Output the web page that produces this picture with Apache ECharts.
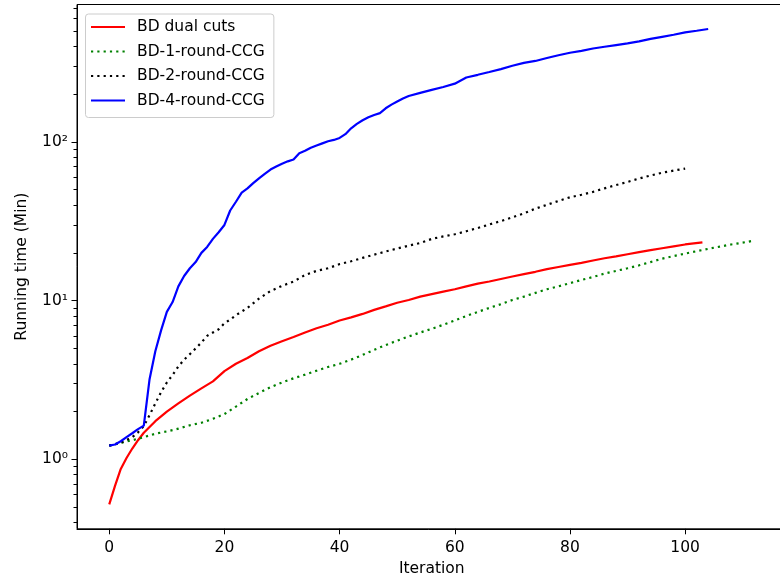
<!DOCTYPE html>
<html>
<head>
<meta charset="utf-8">
<script src="https://cdn.jsdelivr.net/npm/echarts@6/dist/echarts.min.js"></script>
<style>
html,body{margin:0;padding:0;background:#fff;}
#chart{width:780px;height:580px;}
</style>
</head>
<body>
<div id="chart"></div>
<script>
// ---- data ----
const seriesNames = ['BD dual cuts', 'BD-1-round-CCG', 'BD-2-round-CCG', 'BD-4-round-CCG'];

const redIter = [0,1,2,3,4,5,6,8,10,12,14,16,18,20,22,24,26,28,30,32,34,36,38,40,42,44,46,48,50,52,54,56,58,60,62,64,66,68,70,72,74,76,78,80,82,84,86,88,90,92,94,96,98,100,103];
const redTime = [0.52,0.68,0.87,1.02,1.17,1.32,1.47,1.74,2.0,2.25,2.52,2.8,3.1,3.6,4.0,4.35,4.8,5.2,5.55,5.9,6.3,6.7,7.05,7.5,7.85,8.25,8.75,9.2,9.7,10.1,10.6,11.0,11.4,11.8,12.3,12.8,13.2,13.7,14.2,14.7,15.2,15.8,16.3,16.8,17.3,17.9,18.5,19.0,19.6,20.2,20.8,21.4,22.0,22.6,23.3];

const greenIter = [0,2,4,6,8,10,12,14,16,18,20,22,24,26,28,30,32,34,36,38,40,42,44,46,48,50,52,54,56,58,60,62,64,66,68,70,72,74,76,78,80,82,84,86,88,90,92,94,96,98,100,102,104,106,108,110,112];
const greenTime = [1.22,1.27,1.32,1.38,1.45,1.5,1.56,1.64,1.70,1.80,1.93,2.15,2.4,2.62,2.85,3.05,3.24,3.42,3.62,3.82,4.0,4.25,4.55,4.9,5.25,5.6,5.95,6.3,6.65,7.05,7.5,8.0,8.5,9.0,9.5,10.1,10.6,11.2,11.8,12.3,12.9,13.5,14.1,14.8,15.4,16.0,16.7,17.5,18.4,19.1,19.8,20.5,21.2,21.9,22.6,23.2,23.9];

const blackIter = [0,2,4,5,6,7,8,9,10,11,12,13,14,15,16,17,18,19,20,21,22,24,26,28,30,32,34,36,38,40,42,44,46,48,50,52,54,56,58,60,62,64,66,68,70,72,74,76,78,80,82,84,86,88,90,92,94,96,98,100];
const blackTime = [1.22,1.27,1.38,1.48,1.62,1.9,2.25,2.65,3.05,3.4,3.85,4.25,4.6,5.0,5.45,6.0,6.3,6.6,7.2,7.6,8.1,9.0,10.3,11.5,12.4,13.2,14.5,15.4,16.0,17.0,17.7,18.6,19.5,20.4,21.3,22.2,23.1,24.5,25.4,26.2,27.4,28.7,30.2,31.7,33.5,35.5,38.0,40.2,42.5,44.8,46.5,48.5,51.0,53.5,56.0,58.8,61.5,64.0,66.0,68.0];

const blueIter = [0,1,2,3,4,5,6,7,8,9,10,11,12,13,14,15,16,17,18,19,20,21,22,23,24,25,26,27,28,29,30,31,32,33,34,35,36,37,38,39,40,41,42,43,44,45,46,47,48,49,50,51,52,54,56,58,60,62,64,66,68,70,72,74,76,78,80,82,84,86,88,90,92,94,96,98,100,102,104];
const blueTime = [1.22,1.24,1.30,1.38,1.46,1.55,1.63,3.2,4.8,6.5,8.5,9.8,12.3,14.3,16.0,17.5,20.0,21.8,24.5,27.0,30.0,37.0,42.0,48.0,51.0,55.0,59.0,63.0,67.0,70.0,73.0,75.5,77.5,85.0,88.0,92.0,95.0,98.0,101,103,106,112,122,130,137,143,148,152,163,172,180,188,195,204,213,222,233,255,265,276,288,302,315,324,338,352,365,375,388,398,408,418,430,446,460,474,490,502,515];

const xTicks = [0, 20, 40, 60, 80, 100];
const yTicks = [1, 10, 100];
const yTickLabels = ['10\u2070', '10\u00b9', '10\u00b2'];
const yMinorTicks = [0.4,0.5,0.6,0.7,0.8,0.9,2,3,4,5,6,7,8,9,20,30,40,50,60,70,80,90,200,300,400,500,600,700];

// ---- chart ----
const FONT = 'DejaVu Sans';
const FS = 15.5;
const pairs = (xs, ys) => xs.map((x, i) => [x, ys[i]]);
const chart = echarts.init(document.getElementById('chart'), null, {renderer: 'canvas'});

const mkLine = (name, xs, ys, color, dotted) => ({
  name: name,
  type: 'line',
  data: pairs(xs, ys),
  yAxisIndex: 0,
  symbol: 'none',
  showSymbol: false,
  smooth: false,
  lineStyle: {color: color, width: 2.2, type: dotted ? [2.2, 4.1] : 'solid', cap: 'butt'},
  itemStyle: {color: color},
  emphasis: {disabled: true},
  z: 2
});

const yMin = 0.365, yMax = 735;

chart.setOption({
  animation: false,
  backgroundColor: '#ffffff',
  textStyle: {fontFamily: FONT},
  grid: {
    left: 77, width: 709.5, top: 4.5, height: 524.3,
    outerBoundsMode: 'none',
    show: true, borderColor: '#000', borderWidth: 1, backgroundColor: 'transparent',
    containLabel: false
  },
  legend: {
    orient: 'vertical',
    left: 85.5, top: 14,
    padding: [5, 9, 9, 4.5],
    itemWidth: 34, itemHeight: 14, itemGap: 8.5,
    backgroundColor: 'rgba(255,255,255,0.8)',
    borderColor: '#cccccc', borderWidth: 1, borderRadius: 3,
    itemStyle: {opacity: 0, borderWidth: 0},
    textStyle: {fontFamily: FONT, fontSize: FS, color: '#000', padding: [0, 0, 0, 7]},
    data: seriesNames
  },
  xAxis: {
    type: 'value',
    position: 'bottom',
    min: -5.6, max: 117.6,
    name: 'Iteration',
    nameLocation: 'middle',
    nameGap: 31,
    nameTextStyle: {fontFamily: FONT, fontSize: FS, color: '#000'},
    axisLine: {show: true, onZero: false, lineStyle: {color: '#000', width: 1}},
    axisTick: {show: true, inside: false, length: 5.5, lineStyle: {color: '#000', width: 1}, customValues: xTicks},
    axisLabel: {show: true, margin: 11, fontFamily: FONT, fontSize: FS, color: '#000', customValues: xTicks},
    splitLine: {show: false}
  },
  yAxis: [
    {
      type: 'log', logBase: 10,
      position: 'left',
      min: yMin, max: yMax,
      name: 'Running time (Min)',
      nameLocation: 'middle',
      nameGap: 47,
      nameTextStyle: {fontFamily: FONT, fontSize: FS, color: '#000'},
      axisLine: {show: true, onZero: false, lineStyle: {color: '#000', width: 1}},
      axisTick: {show: true, inside: false, length: 5.5, lineStyle: {color: '#000', width: 1}, customValues: yTicks},
      axisLabel: {
        show: true, margin: 9, fontFamily: FONT, fontSize: FS, color: '#000',
        customValues: yTicks,
        formatter: function (v) {
          const idx = yTicks.findIndex(t => Math.abs(t - v) / t < 1e-6);
          return idx >= 0 ? yTickLabels[idx] : '';
        }
      },
      splitLine: {show: false}
    },
    {
      type: 'log', logBase: 10,
      position: 'left',
      min: yMin, max: yMax,
      axisLine: {show: true, onZero: false, lineStyle: {color: '#000', width: 1}},
      axisTick: {show: true, length: 3.5, lineStyle: {color: '#000', width: 1}, customValues: yMinorTicks},
      axisLabel: {show: false},
      splitLine: {show: false}
    }
  ],
  series: [
    mkLine(seriesNames[0], redIter, redTime, '#ff0000', false),
    mkLine(seriesNames[1], greenIter, greenTime, '#008000', true),
    mkLine(seriesNames[2], blackIter, blackTime, '#000000', true),
    mkLine(seriesNames[3], blueIter, blueTime, '#0000ff', false)
  ]
});
</script>
</body>
</html>
